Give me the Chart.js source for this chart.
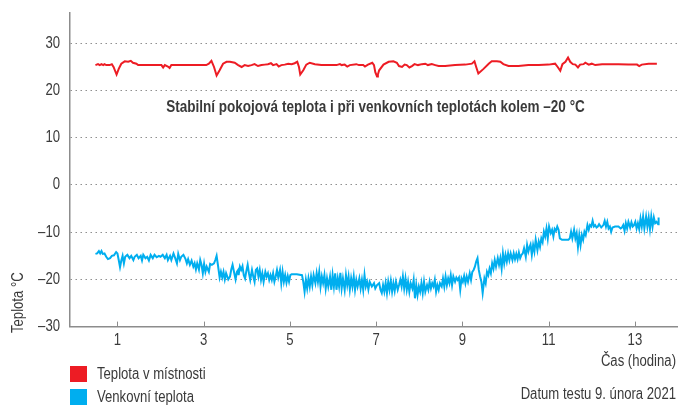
<!DOCTYPE html>
<html lang="cs">
<head>
<meta charset="utf-8">
<title>Teplota v místnosti a venkovní teplota</title>
<script src="https://cdn.jsdelivr.net/npm/chart.js@4/dist/chart.umd.min.js"></script>
<style>
  html, body { margin: 0; padding: 0; background: #fff; }
  canvas { display: block; }
</style>
</head>
<body>
<canvas id="chart" width="678" height="405"></canvas>
<script>
"use strict"

// osa x a y
const xTickValues = [1, 3, 5, 7, 9, 11, 13];
const yTickValues = [-30, -20, -10, 0, 10, 20, 30];

// teplota v místnosti (hodina / °C)
const roomHours = [
    0.49, 0.55, 0.59, 0.63, 0.67, 0.70, 0.74, 0.82, 0.87, 0.91,
    0.98, 1.03, 1.09, 1.17, 1.25, 1.31, 1.36, 1.44, 1.48, 1.63,
    2.02, 2.06, 2.10, 2.17, 2.21, 2.25, 3.06, 3.12, 3.18, 3.24,
    3.30, 3.37, 3.45, 3.53, 3.61, 3.72, 3.80, 3.88, 3.95, 4.03,
    4.11, 4.18, 4.26, 4.34, 4.42, 4.49, 4.56, 4.61, 4.69, 4.74,
    4.80, 4.88, 4.96, 5.04, 5.11, 5.17, 5.21, 5.24, 5.31, 5.38,
    5.46, 5.58, 5.73, 6.08, 6.16, 6.20, 6.27, 6.33, 6.39, 6.54,
    6.60, 6.70, 6.74, 6.81, 6.91, 6.95, 6.98, 7.02, 7.04, 7.07,
    7.17, 7.29, 7.40, 7.48, 7.53, 7.60, 7.66, 7.71, 7.77, 7.83,
    7.89, 7.97, 8.06, 8.14, 8.20, 8.29, 8.37, 8.45, 8.60, 8.83,
    9.07, 9.22, 9.28, 9.32, 9.37, 9.49, 9.61, 9.68, 9.80, 9.88,
    9.95, 10.07, 10.30, 10.53, 10.77, 11.00, 11.15, 11.21, 11.27, 11.32,
    11.39, 11.45, 11.50, 11.56, 11.62, 11.68, 11.73, 11.81, 11.85, 11.93,
    12.00, 12.08, 12.24, 12.62, 12.85, 13.05, 13.10, 13.16, 13.32, 13.51
];
const roomTemp = [
    25.4, 25.6, 25.4, 25.6, 25.4, 25.6, 25.4, 25.4, 25.6, 25.0,
    23.4, 24.6, 25.7, 26.2, 26.1, 26.3, 25.9, 25.7, 25.4, 25.4,
    25.4, 24.9, 25.4, 25.1, 24.8, 25.4, 25.4, 25.7, 26.3, 25.0,
    23.2, 24.3, 25.7, 26.1, 26.1, 25.9, 25.4, 25.0, 25.4, 25.2,
    25.4, 25.6, 25.2, 25.4, 25.5, 25.6, 25.8, 25.4, 25.6, 25.1,
    25.4, 25.5, 25.7, 25.6, 25.8, 26.1, 25.0, 23.4, 24.3, 25.5,
    25.9, 25.6, 25.4, 25.4, 25.6, 25.4, 25.5, 25.1, 25.4, 25.6,
    25.4, 25.4, 25.1, 25.5, 25.9, 25.4, 23.9, 23.0, 23.4, 24.3,
    25.5, 26.1, 26.2, 25.9, 25.2, 25.0, 25.5, 25.4, 24.9, 25.2,
    25.6, 25.4, 25.6, 25.7, 25.4, 25.6, 25.4, 25.2, 25.2, 25.4,
    25.5, 25.7, 26.2, 25.0, 23.6, 24.6, 25.7, 26.2, 26.2, 26.1,
    25.6, 25.2, 25.2, 25.4, 25.4, 25.5, 25.7, 25.0, 24.2, 25.6,
    26.1, 27.0, 26.1, 25.6, 25.5, 24.9, 25.5, 25.6, 25.9, 25.5,
    25.7, 25.4, 25.6, 25.6, 25.5, 25.5, 25.2, 25.5, 25.7, 25.7
];

// venkovní teplota (hodina / °C)
const outHours = [
    0.49, 0.53, 0.57, 0.60, 0.63, 0.66, 0.70, 0.74, 0.78, 0.83,
    0.87, 0.92, 0.97, 1.00, 1.03, 1.06, 1.09, 1.12, 1.15, 1.18,
    1.23, 1.28, 1.32, 1.37, 1.40, 1.45, 1.49, 1.54, 1.57, 1.60,
    1.65, 1.69, 1.73, 1.77, 1.82, 1.86, 1.91, 1.96, 2.00, 2.05,
    2.10, 2.14, 2.17, 2.22, 2.25, 2.30, 2.34, 2.38, 2.41, 2.45,
    2.48, 2.53, 2.58, 2.61, 2.64, 2.68, 2.72, 2.76, 2.79, 2.82,
    2.85, 2.89, 2.92, 2.95, 2.98, 3.01, 3.04, 3.07, 3.12, 3.15,
    3.19, 3.24, 3.27, 3.30, 3.33, 3.37, 3.40, 3.43, 3.46, 3.49,
    3.52, 3.57, 3.61, 3.64, 3.67, 3.71, 3.74, 3.77, 3.80, 3.81,
    3.84, 3.87, 3.90, 3.93, 3.96, 3.99, 4.02, 4.05, 4.08, 4.12,
    4.15, 4.18, 4.21, 4.24, 4.27, 4.30, 4.33, 4.36, 4.39, 4.43,
    4.46, 4.49, 4.52, 4.55, 4.58, 4.61, 4.64, 4.67, 4.70, 4.73,
    4.77, 4.80, 4.83, 4.86, 4.89, 4.92, 4.95, 4.98, 5.01, 5.04,
    5.16, 5.28, 5.31, 5.34, 5.37, 5.40, 5.43, 5.46, 5.49, 5.52,
    5.55, 5.59, 5.62, 5.65, 5.68, 5.71, 5.74, 5.77, 5.80, 5.83,
    5.86, 5.89, 5.93, 5.96, 5.99, 6.02, 6.05, 6.08, 6.11, 6.14,
    6.17, 6.20, 6.23, 6.27, 6.30, 6.33, 6.36, 6.39, 6.42, 6.45,
    6.48, 6.51, 6.54, 6.57, 6.61, 6.64, 6.67, 6.70, 6.73, 6.76,
    6.79, 6.82, 6.85, 6.90, 6.95, 6.98, 7.02, 7.07, 7.10, 7.13,
    7.16, 7.19, 7.22, 7.25, 7.28, 7.31, 7.34, 7.37, 7.40, 7.43,
    7.46, 7.50, 7.53, 7.56, 7.59, 7.62, 7.65, 7.68, 7.71, 7.74,
    7.77, 7.80, 7.84, 7.87, 7.90, 7.93, 7.96, 7.99, 8.02, 8.05,
    8.08, 8.11, 8.14, 8.18, 8.21, 8.24, 8.27, 8.30, 8.33, 8.36,
    8.39, 8.42, 8.45, 8.48, 8.52, 8.55, 8.58, 8.61, 8.64, 8.67,
    8.70, 8.73, 8.76, 8.79, 8.83, 8.86, 8.89, 8.92, 8.95, 8.98,
    9.01, 9.04, 9.07, 9.10, 9.13, 9.17, 9.20, 9.23, 9.26, 9.29,
    9.32, 9.35, 9.38, 9.41, 9.44, 9.47, 9.51, 9.54, 9.57, 9.60,
    9.63, 9.66, 9.69, 9.72, 9.75, 9.78, 9.82, 9.85, 9.88, 9.91,
    9.94, 9.97, 10.00, 10.03, 10.06, 10.09, 10.12, 10.16, 10.19, 10.22,
    10.25, 10.28, 10.31, 10.34, 10.37, 10.40, 10.43, 10.47, 10.50, 10.53,
    10.56, 10.58, 10.61, 10.64, 10.67, 10.70, 10.74, 10.77, 10.80, 10.83,
    10.86, 10.89, 10.92, 10.95, 10.98, 11.01, 11.05, 11.08, 11.11, 11.14,
    11.17, 11.20, 11.23, 11.26, 11.31, 11.38, 11.46, 11.49, 11.52, 11.55,
    11.59, 11.62, 11.65, 11.68, 11.71, 11.74, 11.77, 11.80, 11.83, 11.86,
    11.90, 11.93, 11.96, 11.99, 12.02, 12.05, 12.08, 12.11, 12.14, 12.17,
    12.22, 12.27, 12.30, 12.33, 12.36, 12.39, 12.42, 12.45, 12.48, 12.54,
    12.62, 12.67, 12.70, 12.73, 12.76, 12.79, 12.82, 12.85, 12.89, 12.92,
    12.95, 12.98, 13.01, 13.04, 13.07, 13.10, 13.13, 13.16, 13.19, 13.22,
    13.26, 13.29, 13.32, 13.35, 13.38, 13.41, 13.44, 13.47, 13.50, 13.54,
    13.55
];
const outTemp = [
    -14.6, -14.5, -14.0, -14.5, -14.0, -14.6, -14.5, -15.2, -15.7, -15.5,
    -15.0, -14.9, -14.2, -14.5, -15.9, -17.4, -16.0, -15.0, -16.6, -15.2,
    -14.8, -15.5, -15.0, -15.9, -15.2, -14.8, -15.5, -15.0, -16.0, -14.8,
    -15.5, -15.2, -16.0, -14.8, -15.5, -14.8, -15.3, -15.0, -15.2, -14.8,
    -15.5, -14.8, -15.9, -15.0, -15.9, -14.5, -15.5, -16.6, -14.6, -15.9,
    -15.2, -14.8, -15.7, -16.6, -15.7, -16.9, -16.0, -17.3, -16.6, -17.9,
    -16.6, -17.9, -15.9, -16.9, -18.7, -16.7, -18.4, -17.3, -18.4, -16.7,
    -16.9, -16.6, -15.9, -15.0, -16.9, -19.6, -18.4, -19.6, -18.4, -20.0,
    -18.7, -20.0, -19.4, -17.9, -16.9, -18.7, -20.0, -18.4, -18.0, -19.1,
    -17.3, -18.0, -17.2, -19.1, -19.8, -18.2, -16.9, -18.7, -20.1, -18.0,
    -19.4, -20.5, -18.0, -17.7, -19.4, -18.0, -20.1, -18.7, -20.5, -18.4,
    -19.4, -18.7, -20.1, -19.1, -20.1, -18.7, -20.5, -19.4, -18.0, -19.6,
    -18.0, -20.8, -18.4, -20.5, -19.1, -20.7, -19.3, -20.5, -19.1, -18.9,
    -18.9, -19.1, -20.5, -22.6, -20.1, -21.9, -19.8, -21.5, -19.4, -21.2,
    -19.1, -20.8, -18.7, -20.5, -18.4, -21.5, -19.4, -20.8, -19.1, -21.9,
    -19.8, -21.5, -19.4, -22.2, -19.1, -21.5, -18.7, -22.2, -19.8, -21.5,
    -18.6, -21.9, -19.8, -22.2, -19.1, -21.2, -19.4, -22.1, -19.8, -21.5,
    -19.4, -22.2, -20.1, -21.5, -19.8, -21.9, -20.1, -22.2, -19.1, -21.5,
    -20.5, -22.1, -20.5, -21.5, -20.8, -21.9, -21.2, -20.8, -22.2, -22.9,
    -21.2, -22.6, -20.8, -22.9, -20.5, -22.2, -20.3, -22.6, -20.8, -22.4,
    -20.5, -22.2, -21.2, -20.1, -21.5, -19.4, -21.9, -19.8, -22.2, -20.5,
    -22.6, -20.8, -21.9, -20.1, -24.0, -21.2, -23.3, -21.5, -22.6, -20.8,
    -22.9, -20.5, -22.6, -21.2, -22.2, -20.5, -21.9, -20.8, -21.5, -20.1,
    -22.6, -21.2, -22.2, -20.8, -21.5, -19.8, -21.5, -19.4, -21.2, -19.8,
    -20.8, -19.1, -21.2, -19.4, -20.5, -19.6, -20.1, -19.6, -22.2, -19.8,
    -20.5, -19.3, -20.8, -19.4, -20.5, -18.7, -20.1, -18.4, -18.0, -17.3,
    -16.2, -15.5, -18.0, -19.4, -20.5, -22.9, -19.8, -20.8, -18.4, -19.1,
    -17.7, -18.7, -16.6, -17.7, -15.9, -17.3, -15.5, -16.9, -15.5, -17.7,
    -14.5, -16.6, -14.8, -16.2, -14.5, -15.9, -14.5, -15.9, -14.5, -15.7,
    -14.6, -15.7, -14.3, -15.5, -14.8, -14.5, -13.4, -15.2, -12.7, -14.1,
    -13.1, -12.6, -14.8, -12.7, -14.1, -11.6, -13.8, -12.0, -13.1, -11.3,
    -12.1, -9.9, -10.9, -9.2, -11.3, -8.8, -10.2, -9.5, -10.9, -9.3,
    -9.7, -8.8, -9.5, -11.3, -11.6, -11.6, -11.6, -11.3, -9.9, -11.3,
    -9.5, -11.3, -10.2, -13.1, -10.6, -12.7, -10.6, -11.6, -9.9, -10.6,
    -8.5, -9.5, -8.5, -8.8, -7.6, -8.8, -8.5, -9.0, -8.8, -8.3,
    -9.0, -8.5, -7.6, -8.8, -7.8, -9.2, -8.8, -9.9, -9.0, -8.8,
    -8.8, -9.2, -9.0, -8.5, -9.7, -8.1, -9.2, -7.8, -9.0, -7.9,
    -8.8, -8.5, -7.8, -9.2, -8.1, -9.3, -7.1, -8.8, -6.7, -9.2,
    -6.7, -8.8, -6.9, -9.3, -6.7, -8.8, -6.9, -8.1, -7.8, -8.3,
    -6.9
];

const seriesNames = ['Teplota v místnosti', 'Venkovní teplota'];
const noteText = 'Stabilní pokojová teplota i při venkovních teplotách kolem –20 °C';
const xTitle = 'Čas (hodina)';
const yTitle = 'Teplota °C';
const dateText = 'Datum testu 9. února 2021';

// úzké písmo: Liberation Sans stažené na šířku
const FONT = '"Liberation Sans", Arial, sans-serif';
const SQUEEZE = 0.82;
const TEXT_COLOR = '#3a3a3a';
const AXIS_COLOR = '#8c8c8c';
const RED = '#ed1c24';
const BLUE = '#00aeef';

function toPoints(xs, ys) {
    return xs.map((x, i) => ({x: x, y: ys[i]}));
}

function fmt(v) {
    return v < 0 ? '–' + Math.abs(v) : String(v);
}

function narrowText(ctx, text, x, y, align, font, rotate, squeeze) {
    ctx.save();
    ctx.translate(x, y);
    if (rotate) ctx.rotate(-Math.PI / 2);
    ctx.scale(squeeze || SQUEEZE, 1);
    ctx.font = font;
    ctx.textAlign = align;
    ctx.textBaseline = 'middle';
    ctx.fillText(text, 0, 0);
    ctx.restore();
}

// popisky, legenda, značky na ose x
const decor = {
    id: 'decor',
    afterDraw(chart) {
        const {ctx, chartArea} = chart;
        const sx = chart.scales.x;
        const sy = chart.scales.y;
        const regular = '16px ' + FONT;
        ctx.save();

        ctx.strokeStyle = AXIS_COLOR;
        ctx.lineWidth = 1;
        xTickValues.forEach(v => {
            const px = Math.round(sx.getPixelForValue(v)) + 0.5;
            ctx.beginPath();
            ctx.moveTo(px, chartArea.bottom);
            ctx.lineTo(px, chartArea.bottom - 5);
            ctx.stroke();
        });

        ctx.fillStyle = TEXT_COLOR;
        xTickValues.forEach(v => {
            narrowText(ctx, fmt(v), sx.getPixelForValue(v), 341, 'center', regular);
        });
        yTickValues.forEach(v => {
            narrowText(ctx, fmt(v), 60, sy.getPixelForValue(v), 'right', regular);
        });

        narrowText(ctx, noteText, 375.5, sy.getPixelForValue(16.3), 'center', 'bold 16px ' + FONT, false, 0.845);
        narrowText(ctx, xTitle, 676, 362, 'right', regular);
        narrowText(ctx, dateText, 676, 395, 'right', regular);
        narrowText(ctx, yTitle, 18.5, 333, 'left', regular, true);

        // legenda
        chart.data.datasets.forEach((ds, i) => {
            const top = 366 + i * 23;
            ctx.fillStyle = ds.borderColor;
            ctx.fillRect(70, top, 17, 16);
            ctx.fillStyle = TEXT_COLOR;
            narrowText(ctx, ds.label, 97, top + 8.5, 'left', regular);
        });

        ctx.restore();
    }
};

const ctx = document.getElementById('chart');

const tempChart = new Chart(ctx, {
    type: 'line',
    data: {
        datasets: [{
            label: seriesNames[0],
            data: toPoints(roomHours, roomTemp),
            borderColor: RED,
            backgroundColor: RED,
            borderWidth: 2,
            pointRadius: 0,
            tension: 0
        }, {
            label: seriesNames[1],
            data: toPoints(outHours, outTemp),
            borderColor: BLUE,
            backgroundColor: BLUE,
            borderWidth: 2,
            pointRadius: 0,
            tension: 0
        }]
    },
    options: {
        responsive: false,
        animation: false,
        layout: {
            padding: {top: 12.7, right: 0, bottom: 0, left: 0}
        },
        plugins: {
            legend: {display: false},
            tooltip: {enabled: false}
        },
        scales: {
            x: {
                type: 'linear',
                min: -0.1,
                max: 14.0,
                afterBuildTicks: scale => {
                    scale.ticks = xTickValues.map(v => ({value: v}));
                },
                afterFit: scale => {
                    scale.height = 78.4;
                },
                grid: {display: false, drawTicks: false},
                border: {display: true, color: AXIS_COLOR, width: 1.5},
                ticks: {display: false}
            },
            y: {
                type: 'linear',
                min: -30,
                max: 36.5,
                afterBuildTicks: scale => {
                    scale.ticks = yTickValues.map(v => ({value: v}));
                },
                afterFit: scale => {
                    scale.width = 70;
                },
                grid: {
                    drawTicks: false,
                    color: c => (c.tick && c.tick.value === -30) ? 'rgba(0,0,0,0)' : '#8f8f8f',
                    lineWidth: 1
                },
                border: {display: true, color: AXIS_COLOR, width: 1.5, dash: [1.5, 3.5]},
                ticks: {display: false}
            }
        }
    },
    plugins: [decor]
});
</script>
</body>
</html>
